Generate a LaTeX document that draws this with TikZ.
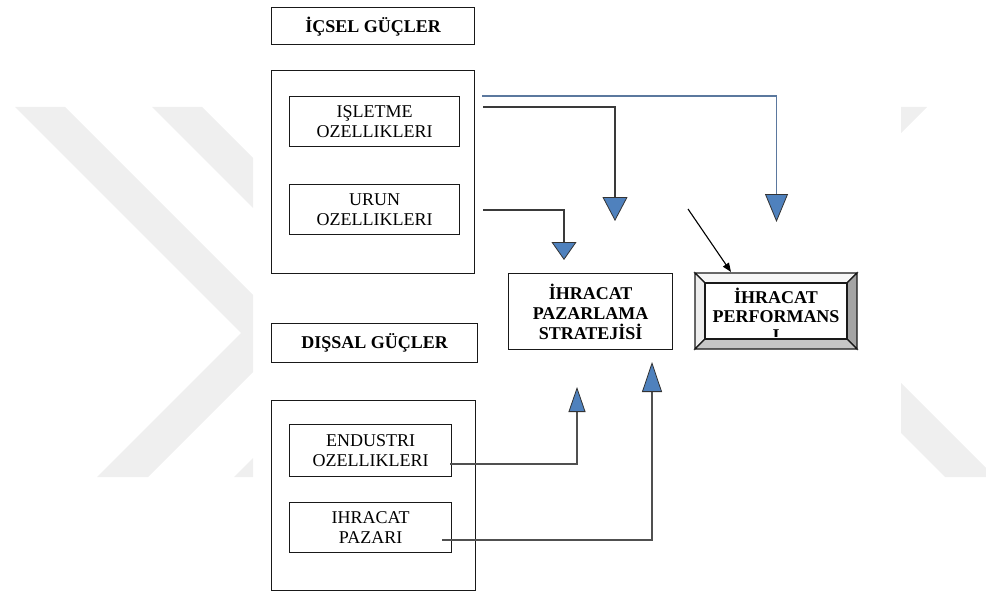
\documentclass[tikz,border=0pt]{standalone}
\usepackage{fontspec}
\setmainfont{Liberation Serif}
\usetikzlibrary{arrows.meta}
\definecolor{wmark}{HTML}{EFEFEF}
\definecolor{tipblue}{HTML}{4F81BD}
\definecolor{tipedge}{HTML}{333333}
\definecolor{steel}{HTML}{5B789E}
\definecolor{darkline}{HTML}{3A3A3A}
\definecolor{thinline}{HTML}{505050}
\definecolor{bevtop}{HTML}{F6F6F6}
\definecolor{bevleft}{HTML}{EDEDED}
\definecolor{bevright}{HTML}{A4A4A4}
\definecolor{bevbottom}{HTML}{C6C6C6}
\begin{document}
\begin{tikzpicture}[x=1pt,y=-1pt,
  frame/.style={draw=black!90, line width=1.3pt, rectangle, inner sep=0pt,
    anchor=north west, align=center, font=\fontsize{18}{20}\selectfont},
  heading/.style={frame, font=\bfseries\fontsize{18}{20}\selectfont},
  feed/.style={draw=darkline, line width=2pt},
  bluefeed/.style={draw=steel, line width=1.6pt},
  lowfeed/.style={draw=thinline, line width=1.5pt},
  btip/.style 2 args={-{Triangle[length=#1pt,width=#2pt,fill=tipblue,color=tipedge,line width=0.8pt]}},
]
\useasboundingbox (0,0) rectangle (986,594);

% faint background chevrons
\begin{scope}
  \clip (0,107) rectangle (253,477);
  \fill[wmark] (15,107) -- (65,107) -- (291.5,333.5) -- (148,477) -- (97,477) -- (241,333) -- cycle;
  \fill[wmark] (152,107) -- (202,107) -- (428.5,333.5) -- (285,477) -- (234,477) -- (378,333) -- cycle;
\end{scope}
\begin{scope}
  \clip (901,107) rectangle (986,477);
  \fill[wmark] (877,107) -- (927,107) -- (776,258) -- (995,477) -- (945,477) -- (726,258) -- cycle;
\end{scope}

% internal forces
\node[heading, minimum width=203, minimum height=37] (icsel) at (271,7) {İÇSEL GÜÇLER};
\node[frame, minimum width=203, minimum height=203] (upper) at (271,70) {};
\node[frame, minimum width=170, minimum height=50] (islet) at (289,96) {IŞLETME\\OZELLIKLERI};
\node[frame, minimum width=170, minimum height=50] (urun) at (289,184) {URUN\\OZELLIKLERI};

% external forces
\node[heading, minimum width=206, minimum height=39] (dissal) at (271,323) {DIŞSAL GÜÇLER};
\node[frame, minimum width=204, minimum height=190] (lower) at (271,400) {};
\node[frame, minimum width=162, minimum height=52] (endus) at (289,424) {ENDUSTRI\\OZELLIKLERI};
\node[frame, minimum width=162, minimum height=50] (pazari) at (289,502) {IHRACAT\\PAZARI};

% strategy box
\node[heading, minimum width=164, minimum height=76] (strat) at (508,273) {İHRACAT\\PAZARLAMA\\STRATEJİSİ};

% performance box with bevelled frame
\node[inner sep=0pt, minimum width=162, minimum height=76, anchor=north west] (perf) at (695,273) {};
\begin{scope}[draw=black!90, line width=1.1pt, line join=miter]
  \filldraw[fill=bevtop] (695,273) -- (857,273) -- (847,283) -- (705,283) -- cycle;
  \filldraw[fill=bevleft] (695,273) -- (705,283) -- (705,339) -- (695,349) -- cycle;
  \filldraw[fill=bevright] (857,273) -- (857,349) -- (847,339) -- (847,283) -- cycle;
  \filldraw[fill=bevbottom] (695,349) -- (857,349) -- (847,339) -- (705,339) -- cycle;
  \filldraw[fill=white] (705,283) rectangle (847,339);
\end{scope}
\begin{scope}
  \clip (705,283) rectangle (847,336.5);
  \node[align=center, inner sep=0pt, font=\bfseries\fontsize{18}{19}\selectfont] (perftext) at (776,315) {İHRACAT\\PERFORMANS\\I};
\end{scope}

% connector end points
\coordinate (s1) at (482,96);   \coordinate (t1) at (776.5,222);
\coordinate (s2) at (483,107);  \coordinate (t2) at (615,221);
\coordinate (s3) at (483,210);  \coordinate (t3) at (564,260);
\coordinate (s4) at (450,464);  \coordinate (t4) at (577,387);
\coordinate (s5) at (442,540);  \coordinate (t5) at (652,362);
\coordinate (s6) at (688,209);  \coordinate (t6) at (731,272);

% connectors
\draw[bluefeed, btip={28}{23}] (s1) -| (t1);
\draw[feed, btip={24}{25}] (s2) -| (t2);
\draw[feed, btip={18}{25}] (s3) -| (t3);
\draw[lowfeed, btip={25}{17}] (s4) -| (t4);
\draw[lowfeed, btip={30}{20}] (s5) -| (t5);
\draw[black, line width=1.1pt, -{Triangle[length=9pt,width=7pt]}] (s6) -- (t6);
\end{tikzpicture}
\end{document}
